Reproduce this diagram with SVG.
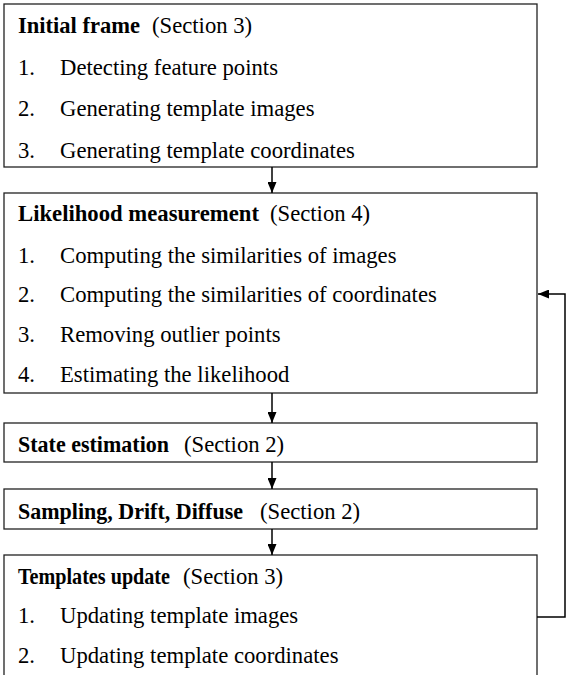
<svg xmlns="http://www.w3.org/2000/svg" width="566" height="675" viewBox="0 0 566 675">
  <style>
    .box { fill: #ffffff; stroke: #222222; stroke-width: 1.3; }
    .txt { font-family: "Liberation Serif", "Times New Roman", serif; font-size: 22.7px; fill: #000000; }
    .b { font-weight: bold; }
    .conn { fill: none; stroke: #000000; stroke-width: 1.5; }
  </style>
  <defs>
    <marker id="arrow" markerWidth="11" markerHeight="9" refX="11" refY="4.5" orient="auto" markerUnits="userSpaceOnUse">
      <path d="M0,0 L11,4.5 L0,9 Z" fill="#000000"/>
    </marker>
  </defs>
  <rect width="566" height="675" fill="#ffffff"/>

  <!-- Initial frame -->
  <g id="initial-frame">
    <rect class="box" x="4" y="4" width="533" height="163"/>
    <text class="txt" y="33"><tspan class="b" x="18" textLength="122" lengthAdjust="spacingAndGlyphs">Initial frame</tspan><tspan x="152">(Section 3)</tspan></text>
    <text class="txt" y="75"><tspan x="18">1.</tspan><tspan x="60">Detecting feature points</tspan></text>
    <text class="txt" y="116"><tspan x="18">2.</tspan><tspan x="60">Generating template images</tspan></text>
    <text class="txt" y="158"><tspan x="18">3.</tspan><tspan x="60">Generating template coordinates</tspan></text>
  </g>

  <!-- Likelihood measurement -->
  <g id="likelihood">
    <rect class="box" x="4" y="193" width="533" height="200"/>
    <text class="txt" y="221"><tspan class="b" x="18" textLength="241" lengthAdjust="spacingAndGlyphs">Likelihood measurement</tspan><tspan x="270">(Section 4)</tspan></text>
    <text class="txt" y="263"><tspan x="18">1.</tspan><tspan x="60">Computing the similarities of images</tspan></text>
    <text class="txt" y="302"><tspan x="18">2.</tspan><tspan x="60">Computing the similarities of coordinates</tspan></text>
    <text class="txt" y="342"><tspan x="18">3.</tspan><tspan x="60">Removing outlier points</tspan></text>
    <text class="txt" y="382"><tspan x="18">4.</tspan><tspan x="60">Estimating the likelihood</tspan></text>
  </g>

  <!-- State estimation -->
  <g id="state-estimation">
    <rect class="box" x="4" y="423" width="533" height="39"/>
    <text class="txt" y="452"><tspan class="b" x="18" textLength="151" lengthAdjust="spacingAndGlyphs">State estimation</tspan><tspan x="184">(Section 2)</tspan></text>
  </g>

  <!-- Sampling, Drift, Diffuse -->
  <g id="sampling">
    <rect class="box" x="4" y="489" width="533" height="40"/>
    <text class="txt" y="519"><tspan class="b" x="18" textLength="225" lengthAdjust="spacingAndGlyphs">Sampling, Drift, Diffuse</tspan><tspan x="260">(Section 2)</tspan></text>
  </g>

  <!-- Templates update -->
  <g id="templates-update">
    <rect class="box" x="4" y="555" width="533" height="140"/>
    <text class="txt" y="584"><tspan class="b" x="18" textLength="152" lengthAdjust="spacingAndGlyphs">Templates update</tspan><tspan x="183">(Section 3)</tspan></text>
    <text class="txt" y="623"><tspan x="18">1.</tspan><tspan x="60">Updating template images</tspan></text>
    <text class="txt" y="663"><tspan x="18">2.</tspan><tspan x="60">Updating template coordinates</tspan></text>
  </g>

  <!-- Connectors -->
  <g id="connectors">
    <line class="conn" x1="272" y1="167" x2="272" y2="193" marker-end="url(#arrow)"/>
    <line class="conn" x1="272" y1="393" x2="272" y2="423" marker-end="url(#arrow)"/>
    <line class="conn" x1="272" y1="462" x2="272" y2="489" marker-end="url(#arrow)"/>
    <line class="conn" x1="272" y1="529" x2="272" y2="555" marker-end="url(#arrow)"/>
    <polyline class="conn" points="537,617 565,617 565,294 538,294" marker-end="url(#arrow)"/>
  </g>
</svg>
